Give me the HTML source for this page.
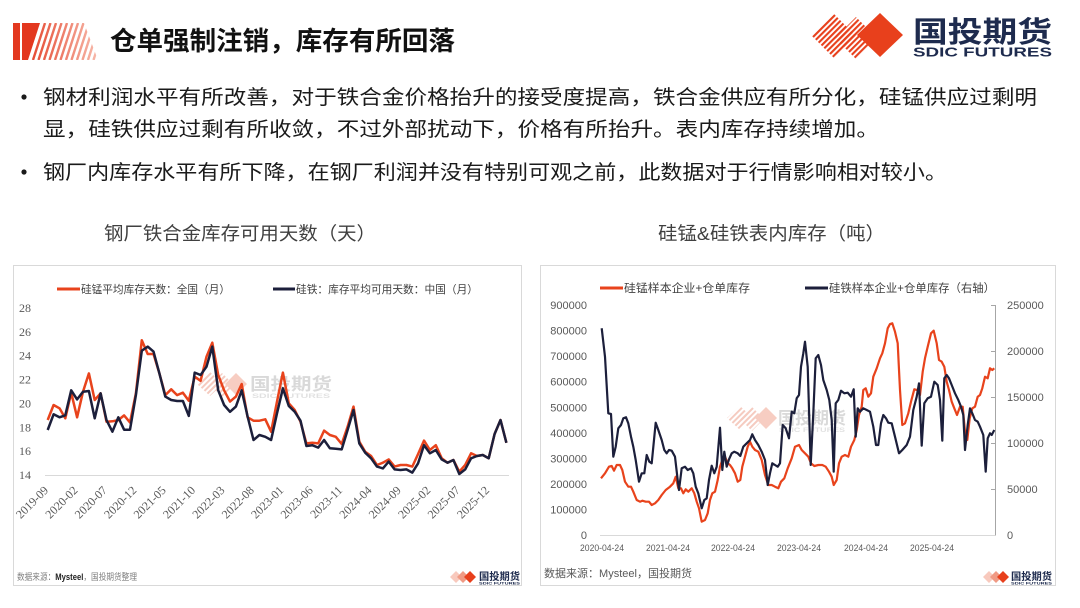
<!DOCTYPE html>
<html>
<head>
<meta charset="utf-8">
<style>
html,body{margin:0;padding:0;background:#fff;}
svg{display:block;}
.cjk{font-family:"Liberation Sans","Noto Sans CJK SC",sans-serif;}
.ser{font-family:"Liberation Serif","Noto Serif CJK SC",serif;}
</style>
</head>
<body>
<svg width="1080" height="608" viewBox="0 0 1080 608" xmlns="http://www.w3.org/2000/svg">
<defs>
  <linearGradient id="tg" gradientUnits="userSpaceOnUse" x1="20" y1="0" x2="98" y2="0">
    <stop offset="0" stop-color="#e3381f"/>
    <stop offset="1" stop-color="#f7b9aa"/>
  </linearGradient>
  <clipPath id="tclip"><polygon points="22,23 84,23 98,60 22,60"/></clipPath>
  <pattern id="st" width="4" height="4" patternUnits="userSpaceOnUse" patternTransform="rotate(45)">
    <rect width="2.1" height="4" fill="#e8401c"/>
  </pattern>
  <pattern id="stw" width="4" height="4" patternUnits="userSpaceOnUse" patternTransform="rotate(45)">
    <rect width="2" height="4" fill="#f4c2b6"/>
  </pattern>
  <linearGradient id="sg" x1="0" y1="0" x2="1" y2="0">
    <stop offset="0" stop-color="#f8c9bd"/>
    <stop offset="1" stop-color="#e8401c"/>
  </linearGradient>
</defs>

<rect width="1080" height="608" fill="#fff"/>

<!-- Title icon -->
<rect x="13" y="23" width="7" height="37" fill="#e3381f"/>
<g clip-path="url(#tclip)" stroke="url(#tg)" stroke-width="2.4">
  <polygon points="22,23 40,23 28,60 22,60" fill="#e3381f" stroke="none"/>
  <line x1="33" y1="60" x2="45" y2="23"/>
  <line x1="38.5" y1="60" x2="50.5" y2="23"/>
  <line x1="44" y1="60" x2="56" y2="23"/>
  <line x1="49.5" y1="60" x2="61.5" y2="23"/>
  <line x1="55" y1="60" x2="67" y2="23"/>
  <line x1="60.5" y1="60" x2="72.5" y2="23"/>
  <line x1="66" y1="60" x2="78" y2="23"/>
  <line x1="71.5" y1="60" x2="83.5" y2="23"/>
  <line x1="77" y1="60" x2="89" y2="23"/>
  <line x1="82.5" y1="60" x2="94.5" y2="23"/>
  <line x1="88" y1="60" x2="100" y2="23"/>
  <line x1="93.5" y1="60" x2="105.5" y2="23"/>
</g>
<text x="110" y="50" class="cjk" font-size="26" font-weight="bold" fill="#111" textLength="345" lengthAdjust="spacingAndGlyphs">仓单强制注销，库存有所回落</text>

<!-- Main logo -->
<polygon points="812,36 834,14 856,36 834,58" fill="url(#st)"/>
<polygon points="835,38 856,17 877,38 856,59" fill="url(#st)"/>
<polygon points="857,35 880,13 903,35 880,57" fill="#e8401c"/>
<text x="913" y="42" class="cjk" font-size="29" font-weight="bold" fill="#1e2b4e" textLength="139" lengthAdjust="spacingAndGlyphs">国投期货</text>
<text x="913" y="56.5" class="cjk" font-size="13" font-weight="bold" fill="#1e2b4e" textLength="139" lengthAdjust="spacingAndGlyphs">SDIC FUTURES</text>

<!-- Bullets -->
<g class="cjk" fill="#1a1a1a" font-size="20">
  <circle cx="24" cy="97" r="2.6" fill="#1a1a1a"/>
  <text x="43" y="104" textLength="994" lengthAdjust="spacingAndGlyphs">钢材利润水平有所改善，对于铁合金价格抬升的接受度提高，铁合金供应有所分化，硅锰供应过剩明</text>
  <text x="43" y="136" textLength="836" lengthAdjust="spacingAndGlyphs">显，硅铁供应过剩有所收敛，不过外部扰动下，价格有所抬升。表内库存持续增加。</text>
  <circle cx="24" cy="172" r="2.6" fill="#1a1a1a"/>
  <text x="43" y="179" textLength="904" lengthAdjust="spacingAndGlyphs">钢厂内库存水平有所下降，在钢厂利润并没有特别可观之前，此数据对于行情影响相对较小。</text>
</g>

<!-- Chart titles -->
<text x="104" y="240" class="cjk" font-size="18.5" fill="#404040" textLength="272" lengthAdjust="spacingAndGlyphs">钢厂铁合金库存可用天数（天）</text>
<text x="658" y="240" class="cjk" font-size="18.5" fill="#404040" textLength="227" lengthAdjust="spacingAndGlyphs">硅锰&amp;硅铁表内库存（吨）</text>

<!-- ================= LEFT CHART ================= -->
<rect x="13.5" y="265.5" width="508" height="320" fill="#fff" stroke="#d9d9d9" stroke-width="1"/>

<!-- legend -->
<line x1="57" y1="289" x2="80" y2="289" stroke="#e8431c" stroke-width="3"/>
<text x="81" y="293" class="cjk" font-size="11" fill="#404040" textLength="149" lengthAdjust="spacingAndGlyphs">硅锰平均库存天数：全国（月）</text>
<line x1="273" y1="289" x2="295" y2="289" stroke="#1c1f3b" stroke-width="3"/>
<text x="296" y="293" class="cjk" font-size="11" fill="#404040" textLength="182" lengthAdjust="spacingAndGlyphs">硅铁：库存平均可用天数：中国（月）</text>

<!-- y labels -->
<g class="ser" font-size="12" fill="#595959" text-anchor="end">
  <text x="31" y="312">28</text>
  <text x="31" y="335.8">26</text>
  <text x="31" y="359.7">24</text>
  <text x="31" y="383.6">22</text>
  <text x="31" y="407.4">20</text>
  <text x="31" y="431.3">18</text>
  <text x="31" y="455.1">16</text>
  <text x="31" y="479">14</text>
</g>
<line x1="45" y1="475.5" x2="509" y2="475.5" stroke="#d9d9d9" stroke-width="1"/>

<!-- x labels rotated -->
<g class="ser" font-size="12" fill="#595959" text-anchor="end">
  <text transform="translate(49,491) rotate(-45)">2019-09</text>
  <text transform="translate(78.4,491) rotate(-45)">2020-02</text>
  <text transform="translate(107.8,491) rotate(-45)">2020-07</text>
  <text transform="translate(137.2,491) rotate(-45)">2020-12</text>
  <text transform="translate(166.6,491) rotate(-45)">2021-05</text>
  <text transform="translate(196,491) rotate(-45)">2021-10</text>
  <text transform="translate(225.4,491) rotate(-45)">2022-03</text>
  <text transform="translate(254.8,491) rotate(-45)">2022-08</text>
  <text transform="translate(284.2,491) rotate(-45)">2023-01</text>
  <text transform="translate(313.6,491) rotate(-45)">2023-06</text>
  <text transform="translate(343,491) rotate(-45)">2023-11</text>
  <text transform="translate(372.4,491) rotate(-45)">2024-04</text>
  <text transform="translate(401.8,491) rotate(-45)">2024-09</text>
  <text transform="translate(431.2,491) rotate(-45)">2025-02</text>
  <text transform="translate(460.6,491) rotate(-45)">2025-07</text>
  <text transform="translate(490,491) rotate(-45)">2025-12</text>
</g>

<!-- left watermark -->
<g opacity="0.85">
  <polygon points="197,384 210,372 223,384 210,396" fill="url(#stw)"/>
  <polygon points="210,385 222,373 234,385 222,397" fill="url(#stw)"/>
  <polygon points="225,384 236,373 247,384 236,395" fill="#f6c5b8"/>
  <text x="250" y="390" class="cjk" font-size="17" font-weight="bold" fill="#d3d3d3" textLength="82" lengthAdjust="spacingAndGlyphs">国投期货</text>
  <text x="252" y="398" class="cjk" font-size="6" font-weight="bold" fill="#dcdcdc" textLength="78" lengthAdjust="spacingAndGlyphs">SDIC FUTURES</text>
</g>

<!-- left series -->
<polyline fill="none" stroke="#e8431c" stroke-width="2.5" stroke-linejoin="round" points="47.7,420.0 53.6,405.0 59.5,408.3 65.3,418.3 71.2,392.7 77.1,417.3 83.0,391.7 88.9,373.4 94.7,400.0 100.6,393.3 106.5,421.7 112.4,421.3 118.3,420.1 124.1,415.4 130.0,422.5 135.9,393.3 141.8,340.2 147.7,354.0 153.5,354.0 159.4,373.4 165.3,395.1 171.2,389.3 177.1,395.1 182.9,392.7 188.8,400.7 194.7,376.7 200.6,380.8 206.5,356.7 212.3,342.7 218.2,375.0 224.1,390.3 230.0,401.6 235.9,396.6 241.7,384.0 247.6,417.3 253.5,420.7 259.4,420.7 265.3,419.3 271.1,431.7 277.0,401.6 282.9,372.6 288.8,403.3 294.7,410.0 300.5,421.7 306.4,443.4 312.3,442.8 318.2,443.4 324.1,430.6 329.9,435.0 335.8,436.8 341.7,444.0 347.6,426.7 353.5,406.6 359.3,441.6 365.2,451.7 371.1,456.0 377.0,465.0 382.9,462.7 388.7,459.4 394.6,466.6 400.5,465.0 406.4,465.0 412.3,466.6 418.1,454.0 424.0,440.6 429.9,450.0 435.8,445.2 441.7,458.3 447.5,462.7 453.4,460.0 459.3,471.7 465.2,465.0 471.1,453.3 476.9,456.0 482.8,455.0 488.7,458.3 494.6,434.0 500.5,420.0 506.4,442.8"/>
<polyline fill="none" stroke="#1c1f3b" stroke-width="2.5" stroke-linejoin="round" points="47.7,430.0 53.6,414.3 59.5,417.3 65.3,415.3 71.2,390.3 77.1,399.4 83.0,391.7 88.9,391.0 94.7,418.3 100.6,393.3 106.5,420.1 112.4,431.7 118.3,417.3 124.1,429.7 130.0,429.7 135.9,395.1 141.8,350.7 147.7,346.6 153.5,351.6 159.4,373.4 165.3,396.6 171.2,400.0 177.1,401.0 182.9,401.0 188.8,415.9 194.7,372.6 200.6,375.0 206.5,366.7 212.3,346.6 218.2,390.3 224.1,405.0 230.0,411.8 235.9,406.6 241.7,390.3 247.6,416.5 253.5,440.0 259.4,435.0 265.3,436.8 271.1,440.0 277.0,413.3 282.9,388.3 288.8,406.0 294.7,411.7 300.5,420.7 306.4,446.0 312.3,445.2 318.2,447.6 324.1,440.0 329.9,448.3 335.8,448.8 341.7,449.4 347.6,430.0 353.5,410.0 359.3,443.4 365.2,452.7 371.1,458.3 377.0,466.6 382.9,468.4 388.7,461.6 394.6,469.4 400.5,470.0 406.4,469.4 412.3,472.6 418.1,463.3 424.0,445.2 429.9,453.3 435.8,450.0 441.7,459.4 447.5,462.7 453.4,460.0 459.3,474.0 465.2,469.4 471.1,458.3 476.9,456.0 482.8,455.0 488.7,458.3 494.6,434.0 500.5,420.0 506.4,442.8"/>

<!-- left footer -->
<text x="17" y="580" class="cjk" font-size="9" fill="#7f7f7f" textLength="120" lengthAdjust="spacingAndGlyphs">数据来源：<tspan fill="#222" font-weight="bold">Mysteel</tspan>，国投期货整理</text>
<g>
  <polygon points="450,577 456,571 462,577 456,583" fill="#f8c9bd"/>
  <polygon points="457,577 463,571 469,577 463,583" fill="#f09a84"/>
  <polygon points="464,577 470,571 476,577 470,583" fill="#e8401c"/>
  <text x="479" y="580" class="cjk" font-size="10" font-weight="bold" fill="#1e2b4e" textLength="41" lengthAdjust="spacingAndGlyphs">国投期货</text>
  <text x="479" y="584.5" class="cjk" font-size="3.5" font-weight="bold" fill="#1e2b4e" textLength="41" lengthAdjust="spacingAndGlyphs">SDIC FUTURES</text>
</g>

<!-- ================= RIGHT CHART ================= -->
<rect x="540.5" y="265.5" width="515" height="320" fill="#fff" stroke="#d9d9d9" stroke-width="1"/>

<!-- legend -->
<line x1="600" y1="288" x2="623" y2="288" stroke="#e8431c" stroke-width="3"/>
<text x="624" y="292" class="cjk" font-size="11.5" fill="#404040" textLength="126" lengthAdjust="spacingAndGlyphs">硅锰样本企业+仓单库存</text>
<line x1="805" y1="288" x2="828" y2="288" stroke="#1c1f3b" stroke-width="3"/>
<text x="829" y="292" class="cjk" font-size="11.5" fill="#404040" textLength="166" lengthAdjust="spacingAndGlyphs">硅铁样本企业+仓单库存（右轴）</text>

<!-- left axis labels -->
<g class="cjk" font-size="11" fill="#595959" text-anchor="end">
  <text x="587" y="309">900000</text>
  <text x="587" y="334.6">800000</text>
  <text x="587" y="360.2">700000</text>
  <text x="587" y="385.7">600000</text>
  <text x="587" y="411.3">500000</text>
  <text x="587" y="436.8">400000</text>
  <text x="587" y="462.4">300000</text>
  <text x="587" y="487.9">200000</text>
  <text x="587" y="513.5">100000</text>
  <text x="587" y="539">0</text>
</g>
<!-- right axis -->
<line x1="995.5" y1="305" x2="995.5" y2="535" stroke="#a6a6a6" stroke-width="1"/>
<g stroke="#a6a6a6" stroke-width="1">
  <line x1="991" y1="305.5" x2="995.5" y2="305.5"/>
  <line x1="991" y1="351.5" x2="995.5" y2="351.5"/>
  <line x1="991" y1="397.5" x2="995.5" y2="397.5"/>
  <line x1="991" y1="443.5" x2="995.5" y2="443.5"/>
  <line x1="991" y1="489.5" x2="995.5" y2="489.5"/>
  <line x1="991" y1="535.5" x2="995.5" y2="535.5"/>
</g>
<g class="cjk" font-size="11" fill="#595959">
  <text x="1007" y="309">250000</text>
  <text x="1007" y="355">200000</text>
  <text x="1007" y="401">150000</text>
  <text x="1007" y="447">100000</text>
  <text x="1007" y="493">50000</text>
  <text x="1007" y="539">0</text>
</g>
<line x1="600" y1="535.5" x2="995" y2="535.5" stroke="#d9d9d9" stroke-width="1"/>
<g class="cjk" font-size="9.5" fill="#595959" text-anchor="middle">
  <text x="602" y="551" textLength="44" lengthAdjust="spacingAndGlyphs">2020-04-24</text>
  <text x="668" y="551" textLength="44" lengthAdjust="spacingAndGlyphs">2021-04-24</text>
  <text x="733" y="551" textLength="44" lengthAdjust="spacingAndGlyphs">2022-04-24</text>
  <text x="799" y="551" textLength="44" lengthAdjust="spacingAndGlyphs">2023-04-24</text>
  <text x="866" y="551" textLength="44" lengthAdjust="spacingAndGlyphs">2024-04-24</text>
  <text x="932" y="551" textLength="44" lengthAdjust="spacingAndGlyphs">2025-04-24</text>
</g>

<!-- right watermark -->
<g opacity="0.85">
  <polygon points="727,418 740,406 753,418 740,430" fill="url(#stw)"/>
  <polygon points="740,419 752,407 764,419 752,431" fill="url(#stw)"/>
  <polygon points="755,418 766,407 777,418 766,429" fill="#f6c5b8"/>
  <text x="778" y="424" class="cjk" font-size="17" font-weight="bold" fill="#d3d3d3" textLength="68" lengthAdjust="spacingAndGlyphs">国投期货</text>
  <text x="779" y="432" class="cjk" font-size="6" font-weight="bold" fill="#dcdcdc" textLength="66" lengthAdjust="spacingAndGlyphs">SDIC FUTURES</text>
</g>

<!-- right series -->
<polyline fill="none" stroke="#e8431c" stroke-width="2.2" stroke-linejoin="round" points="601,478.3 605,473.3 609,466.7 611.7,466 614,470.7 616.7,465 620,465 622.3,470 625,481.7 628.3,486.7 631,486.7 633.3,491.7 636.7,500 640,501.7 642.3,500.7 645.7,501.7 649,501.7 651.7,505 655,503.3 658.3,500 661.7,495 665.7,490 670,486.7 673.3,483.3 675.7,476.7 678.3,488.3 681,488.3 683.3,493.3 685.7,489.3 688.3,491.7 691.7,488.3 694.3,493.3 696.7,501.7 699,508.3 701.7,521.7 705,520 707.7,513.3 710,500 712.3,493.3 715,491.7 717.7,480 720,466.7 722.3,460 725,456.7 727.7,463.3 730,465 732.3,468.3 735,473.3 737.7,481.7 740.3,480 742.3,466.7 745,456.7 747.7,446.7 750,441.7 752.3,446.7 755,450 758.3,451.7 761.7,460 765,475 768.3,485 771.7,485 775,486.7 778.3,488.3 781,481.7 784.3,478.3 787.7,468.3 791.7,458.3 795,446.7 799,445 801.7,450 805,453.3 808.3,456.7 811,463.3 814.3,466 818.3,465 822.3,465 825.7,466.7 829,471.7 831.7,476.7 833.7,485 836.7,480 839,463.3 841.7,456.7 845,455 848.3,456.7 851,446.7 854.3,440 856.7,430 859,415 861.7,406.7 863.3,390 865.7,388.3 868.3,396.7 871,393.3 873.3,376.7 876.7,368.3 880,358.3 882.3,353.3 885,343.3 887.7,328.3 890,324 892.3,323.3 895,331.7 897.7,343.3 900,390 902.3,425 905,423.3 908.3,413.3 911,401.7 914.3,389.3 917,390 920,395 922.7,371.7 925,358.3 927.7,346.7 931,333.3 933.7,330.7 936.7,343.3 939,360 941.7,361.7 944.3,366.7 946.7,381.7 949,390 951.7,401.7 954.3,408.3 957,415 960,406.7 962.7,406.7 965,431.7 967.3,440 969.7,418.3 972.3,408.3 975,406.7 977.7,396.7 980,395 982.3,388.3 985,376.7 987.7,378.3 990,368.3 992.3,370 994.3,368.3"/>
<polyline fill="none" stroke="#1c1f3b" stroke-width="2.2" stroke-linejoin="round" points="601.7,328.3 605,356.7 608.3,413.3 611,414 613.3,456.7 615.7,446.7 618.3,428.3 621,425 623.3,418.3 626,417.3 628.3,423.3 631,436.7 633.3,446.7 635.7,460 639,481.7 641.7,473.3 644.3,473.3 646.7,455 649.3,461.7 651.7,463.3 655.7,422.7 658.3,430 661.7,440 664.3,450 666.7,453.3 669,450 671.7,450.7 675,456.7 677.7,480 679,490 681.7,468.3 685,466.7 687.7,470 691,468.3 693.3,473.3 695.7,486.7 698.3,493.3 701.7,508.3 704.3,500 706.7,498.3 709,480 711.7,465.7 714.3,473.3 716.7,466.7 720,427.7 722.3,470 724.3,451.7 726.7,466.7 729,459.3 731.7,453.3 734.3,451.7 737.7,453.3 740.3,456 743.3,446.7 746.7,443.3 750,440 752.3,434.3 755,440 758.3,445 761.7,451.7 765,460 767.7,485 770,473.3 772.3,463.3 775,465 777.7,466.7 780,463.3 782.7,425 785.7,428.3 789,438.3 791.7,411.7 794.3,413.3 796.7,398.3 799,395 801,366.7 803.3,353.3 805,341.7 807.7,366.7 810.7,465 813.3,413.3 815.7,358.3 818.3,355 821,365 823.3,380 826.7,390 829.3,400 831.7,420 833.7,471.7 835.7,403.3 838.3,400 841,390.7 844.3,393.3 847.7,392.7 851,396.7 853.7,389.3 855.7,436.7 857.7,408.3 860,411.7 863.3,408.3 866.7,410 870,411.7 873.3,426.7 876,445 878.3,445 881,423.3 883.3,415 886,418.3 888.3,422.7 891.7,423.3 895,436.7 899,453.3 902.3,450 906.7,445 910,436.7 913.3,410 916.7,396.7 919,383.3 921.7,445.7 924.3,403.3 927.7,398.3 931,396.7 934.3,381.7 937.7,385 940,400 942.3,440.7 944.3,378.3 946.7,375 949,378.3 951.7,385 955,393.3 958.3,400 961,406.7 963.3,415 965,450 967.7,425 970,408.3 972.3,413.3 975,420 977.7,421.7 980,426.7 983.3,435 985.7,471.7 987.7,438.3 990,433.3 991.7,435 994.3,430"/>

<!-- right footer -->
<text x="544" y="577" class="cjk" font-size="11" fill="#595959" textLength="148" lengthAdjust="spacingAndGlyphs">数据来源：Mysteel，国投期货</text>
<g>
  <polygon points="983,577 989,571 995,577 989,583" fill="#f8c9bd"/>
  <polygon points="990,577 996,571 1002,577 996,583" fill="#f09a84"/>
  <polygon points="997,577 1003,571 1009,577 1003,583" fill="#e8401c"/>
  <text x="1011" y="580" class="cjk" font-size="10" font-weight="bold" fill="#1e2b4e" textLength="41" lengthAdjust="spacingAndGlyphs">国投期货</text>
  <text x="1011" y="584.5" class="cjk" font-size="3.5" font-weight="bold" fill="#1e2b4e" textLength="41" lengthAdjust="spacingAndGlyphs">SDIC FUTURES</text>
</g>
</svg>
</body>
</html>
